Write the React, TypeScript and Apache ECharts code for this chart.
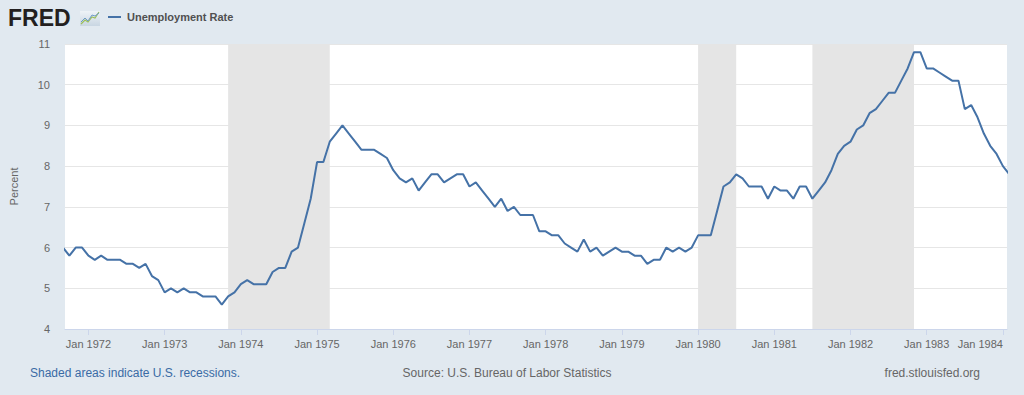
import React, { useEffect, useRef } from "react";
import * as echarts from "echarts";

// Monthly unemployment rate (%), starting September 1971
const startYear = 1971;
const startMonth = 9; // 1 = January
const rates: number[] = [
  // 1971 Sep-Dec
  6.0, 5.8, 6.0, 6.0,
  // 1972
  5.8, 5.7, 5.8, 5.7, 5.7, 5.7, 5.6, 5.6, 5.5, 5.6, 5.3, 5.2,
  // 1973
  4.9, 5.0, 4.9, 5.0, 4.9, 4.9, 4.8, 4.8, 4.8, 4.6, 4.8, 4.9,
  // 1974
  5.1, 5.2, 5.1, 5.1, 5.1, 5.4, 5.5, 5.5, 5.9, 6.0, 6.6, 7.2,
  // 1975
  8.1, 8.1, 8.6, 8.8, 9.0, 8.8, 8.6, 8.4, 8.4, 8.4, 8.3, 8.2,
  // 1976
  7.9, 7.7, 7.6, 7.7, 7.4, 7.6, 7.8, 7.8, 7.6, 7.7, 7.8, 7.8,
  // 1977
  7.5, 7.6, 7.4, 7.2, 7.0, 7.2, 6.9, 7.0, 6.8, 6.8, 6.8, 6.4,
  // 1978
  6.4, 6.3, 6.3, 6.1, 6.0, 5.9, 6.2, 5.9, 6.0, 5.8, 5.9, 6.0,
  // 1979
  5.9, 5.9, 5.8, 5.8, 5.6, 5.7, 5.7, 6.0, 5.9, 6.0, 5.9, 6.0,
  // 1980
  6.3, 6.3, 6.3, 6.9, 7.5, 7.6, 7.8, 7.7, 7.5, 7.5, 7.5, 7.2,
  // 1981
  7.5, 7.4, 7.4, 7.2, 7.5, 7.5, 7.2, 7.4, 7.6, 7.9, 8.3, 8.5,
  // 1982
  8.6, 8.9, 9.0, 9.3, 9.4, 9.6, 9.8, 9.8, 10.1, 10.4, 10.8, 10.8,
  // 1983
  10.4, 10.4, 10.3, 10.2, 10.1, 10.1, 9.4, 9.5, 9.2, 8.8, 8.5, 8.3,
  // 1984 Jan-Feb
  8.0, 7.8,
];

// Recessions: [start year, start month, end year, end month]
const recessions: [number, number, number, number][] = [
  [1973, 11, 1975, 3],
  [1980, 1, 1980, 7],
  [1981, 7, 1982, 11],
];

const tickYears: number[] = [1972, 1973, 1974, 1975, 1976, 1977, 1978, 1979, 1980, 1981, 1982, 1983, 1984];

const seriesName = "Unemployment Rate";
const yAxisName = "Percent";
const footLeft = "Shaded areas indicate U.S. recessions.";
const footMid = "Source: U.S. Bureau of Labor Statistics";
const footRight = "fred.stlouisfed.org";

const toX = (y: number, m: number) => y + (m - 1) / 12;

export default function App() {
  const ref = useRef<HTMLDivElement>(null);

  useEffect(() => {
    document.body.style.margin = "0";
    if (!ref.current) return;
    const chart = echarts.init(ref.current, null, { renderer: "svg" });

    const data = rates.map((v, i) => {
      const mIdx = startMonth - 1 + i;
      const y = startYear + Math.floor(mIdx / 12);
      const m = (mIdx % 12) + 1;
      return [toX(y, m), v];
    });

    const font = "'Liberation Sans', Arial, sans-serif";

    chart.setOption({
      animation: false,
      backgroundColor: "#e1e9f0",
      textStyle: { fontFamily: font },
      grid: {
        left: 62,
        right: 17,
        top: 44,
        bottom: 66,
        show: true,
        backgroundColor: "#ffffff",
        borderWidth: 0,
      },
      xAxis: {
        type: "value",
        min: 1971.6925,
        max: 1984.0536,
        axisLine: { show: true, lineStyle: { color: "#ccd6eb", width: 1 } },
        axisTick: {
          show: true,
          length: 6,
          customValues: tickYears,
          lineStyle: { color: "#ccd6eb" },
        },
        axisLabel: {
          customValues: tickYears,
          formatter: (v: number) => "Jan " + Math.round(v),
          color: "#666666",
          fontSize: 11,
          margin: 9,
          alignMaxLabel: "right",
        },
        splitLine: { show: false },
      },
      yAxis: {
        type: "value",
        min: 4,
        max: 11,
        interval: 1,
        name: yAxisName,
        nameLocation: "middle",
        nameGap: 46,
        nameTextStyle: { color: "#666666", fontSize: 11 },
        axisLine: { show: false },
        axisTick: { show: false },
        axisLabel: { color: "#666666", fontSize: 11, margin: 15 },
        splitLine: { show: true, lineStyle: { color: "#e6e6e6", width: 1 } },
      },
      series: [
        {
          name: seriesName,
          type: "line",
          data,
          showSymbol: false,
          clip: true,
          lineStyle: { color: "#4572a7", width: 2 },
          itemStyle: { color: "#4572a7" },
          markArea: {
            silent: true,
            itemStyle: { color: "#e5e5e5" },
            data: recessions.map(([y1, m1, y2, m2]) => [
              { xAxis: toX(y1, m1) },
              { xAxis: toX(y2, m2) },
            ]),
          },
        },
      ],
      graphic: [
        {
          type: "text",
          left: 8,
          top: 6,
          style: {
            text: "FRED",
            fill: "#231f20",
            font: `bold 23px ${font}`,
          },
        },
        {
          type: "rect",
          shape: { x: 80, y: 11, width: 20, height: 15 },
          style: {
            fill: new echarts.graphic.LinearGradient(0, 0, 0, 1, [
              { offset: 0, color: "#eef3f7" },
              { offset: 1, color: "#c9d6e2" },
            ]),
          },
        },
        {
          type: "polyline",
          shape: { points: [[81, 24], [85, 20], [88, 22], [92, 17], [95, 18], [99, 12]] },
          style: { stroke: "#9bbf5a", lineWidth: 1.2, fill: "none" },
        },
        {
          type: "polyline",
          shape: { points: [[81, 22], [85, 18], [88, 21], [92, 15], [95, 16], [99, 13]] },
          style: { stroke: "#6f9bc7", lineWidth: 1, fill: "none" },
        },
        {
          type: "line",
          shape: { x1: 108, y1: 17, x2: 121, y2: 17 },
          style: { stroke: "#4572a7", lineWidth: 2 },
        },
        {
          type: "text",
          x: 127,
          y: 17,
          style: {
            text: seriesName,
            fill: "#505050",
            font: `bold 11px ${font}`,
            textVerticalAlign: "middle",
          },
        },
        {
          type: "text",
          x: 30,
          y: 373,
          style: {
            text: footLeft,
            fill: "#3a6ba5",
            font: `12px ${font}`,
            textVerticalAlign: "middle",
          },
        },
        {
          type: "text",
          x: 507,
          y: 373,
          style: {
            text: footMid,
            fill: "#666666",
            font: `12px ${font}`,
            textAlign: "center",
            textVerticalAlign: "middle",
          },
        },
        {
          type: "text",
          x: 980,
          y: 373,
          style: {
            text: footRight,
            fill: "#666666",
            font: `12px ${font}`,
            textAlign: "right",
            textVerticalAlign: "middle",
          },
        },
      ],
    });

    return () => chart.dispose();
  }, []);

  return (
    <div
      ref={ref}
      style={{ position: "absolute", left: 0, top: 0, width: 1024, height: 395 }}
    />
  );
}
